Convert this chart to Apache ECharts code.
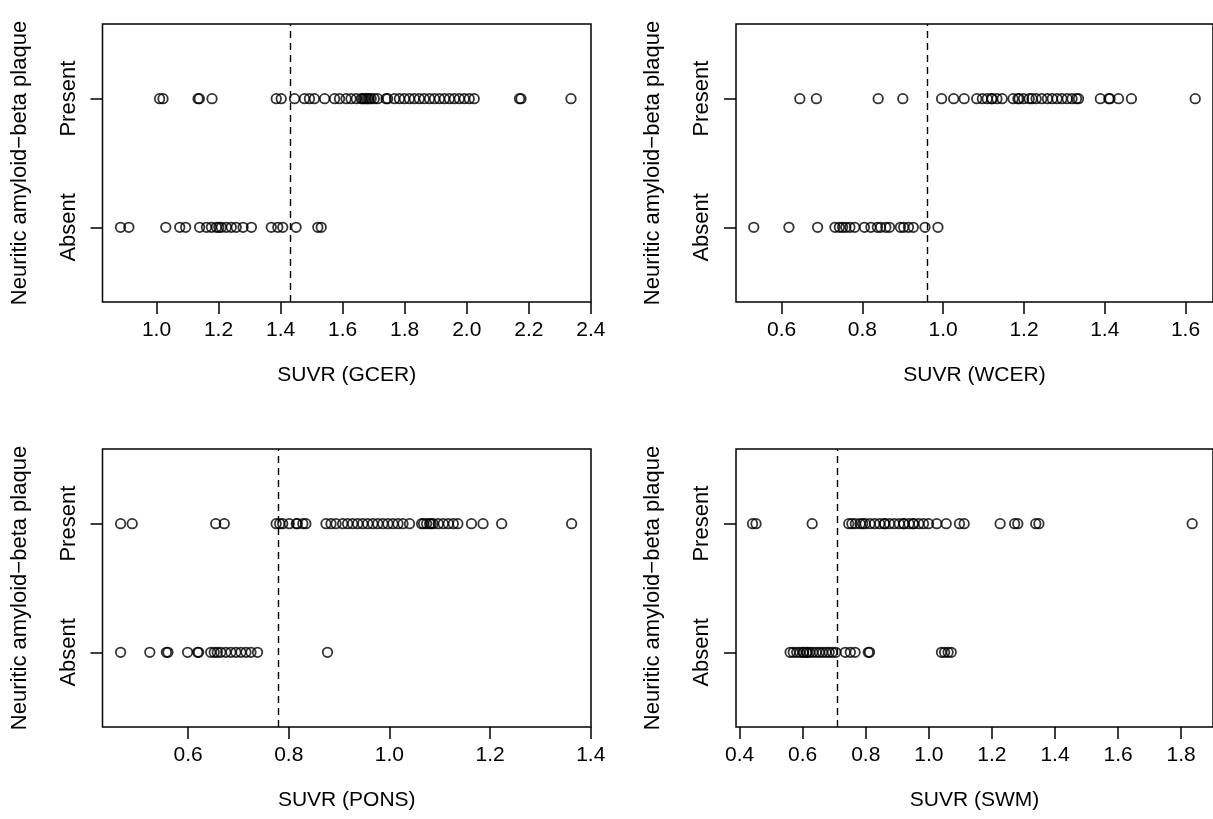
<!DOCTYPE html>
<html><head><meta charset="utf-8">
<script src="https://cdn.jsdelivr.net/npm/echarts@6/dist/echarts.min.js"></script>
<style>html,body{margin:0;padding:0;background:#fff}#c{width:1213px;height:819px}</style>
</head><body><div id="c"></div>
<script>
// ---- data (SUVR values per group) ----
const gcerPresent = [1.010, 1.021, 1.134, 1.138, 1.179, 1.386, 1.402, 1.445, 1.477, 1.493, 1.509, 1.542, 1.574, 1.590, 1.611, 1.627, 1.644, 1.660, 1.665, 1.670, 1.676, 1.681, 1.686, 1.692, 1.702, 1.713, 1.740, 1.745, 1.767, 1.783, 1.799, 1.815, 1.831, 1.847, 1.863, 1.880, 1.896, 1.912, 1.928, 1.944, 1.960, 1.976, 1.992, 2.008, 2.024, 2.170, 2.175, 2.336];
const gcerAbsent = [0.884, 0.911, 1.030, 1.075, 1.094, 1.139, 1.161, 1.177, 1.193, 1.201, 1.209, 1.225, 1.241, 1.257, 1.279, 1.306, 1.370, 1.391, 1.407, 1.450, 1.520, 1.531];
const wcerPresent = [0.645, 0.686, 0.839, 0.900, 0.996, 1.026, 1.052, 1.083, 1.097, 1.109, 1.120, 1.121, 1.133, 1.146, 1.173, 1.185, 1.188, 1.199, 1.213, 1.220, 1.230, 1.244, 1.258, 1.270, 1.282, 1.294, 1.307, 1.319, 1.330, 1.335, 1.389, 1.410, 1.413, 1.434, 1.466, 1.624];
const wcerAbsent = [0.531, 0.618, 0.689, 0.732, 0.743, 0.751, 0.759, 0.769, 0.781, 0.805, 0.821, 0.837, 0.845, 0.858, 0.867, 0.894, 0.902, 0.914, 0.926, 0.955, 0.987];
const ponsPresent = [0.466, 0.489, 0.655, 0.672, 0.775, 0.782, 0.788, 0.801, 0.815, 0.817, 0.828, 0.834, 0.874, 0.884, 0.894, 0.907, 0.917, 0.927, 0.937, 0.947, 0.957, 0.967, 0.977, 0.987, 0.997, 1.007, 1.017, 1.027, 1.040, 1.064, 1.068, 1.074, 1.080, 1.083, 1.087, 1.097, 1.107, 1.117, 1.127, 1.136, 1.163, 1.186, 1.223, 1.362];
const ponsAbsent = [0.466, 0.524, 0.557, 0.560, 0.599, 0.619, 0.621, 0.645, 0.652, 0.658, 0.665, 0.675, 0.685, 0.695, 0.705, 0.715, 0.725, 0.738, 0.877];
const swmPresent = [0.441, 0.452, 0.630, 0.746, 0.756, 0.767, 0.782, 0.790, 0.798, 0.813, 0.828, 0.844, 0.859, 0.860, 0.875, 0.890, 0.906, 0.921, 0.920, 0.937, 0.952, 0.950, 0.968, 0.983, 0.999, 1.025, 1.055, 1.097, 1.112, 1.226, 1.272, 1.282, 1.339, 1.349, 1.835];
const swmAbsent = [0.560, 0.570, 0.581, 0.591, 0.601, 0.603, 0.612, 0.614, 0.622, 0.632, 0.643, 0.653, 0.663, 0.674, 0.684, 0.694, 0.705, 0.735, 0.751, 0.766, 0.808, 0.812, 1.040, 1.050, 1.061, 1.071];
const cutoffs = [1.425, 0.959, 0.776, 0.706];
const xTitles = ['SUVR (GCER)', 'SUVR (WCER)', 'SUVR (PONS)', 'SUVR (SWM)'];
const xTickValues = [
  [1.0, 1.2, 1.4, 1.6, 1.8, 2.0, 2.2, 2.4],
  [0.6, 0.8, 1.0, 1.2, 1.4, 1.6],
  [0.6, 0.8, 1.0, 1.2, 1.4],
  [0.4, 0.6, 0.8, 1.0, 1.2, 1.4, 1.6, 1.8]
];
const xLimits = [[0.826, 2.4005], [0.487, 1.668], [0.430, 1.4005], [0.3885, 1.901]];
const groupLabels = ['Absent', 'Present'];
const yTitle = 'Neuritic amyloid\u2212beta plaque';

// ---- layout ----
const presentSets = [gcerPresent, wcerPresent, ponsPresent, swmPresent];
const absentSets = [gcerAbsent, wcerAbsent, ponsAbsent, swmAbsent];
const lefts = [102.5, 736, 102.5, 736];
const tops = [24, 24, 449, 449];
const W = 488.5, H = 278;
const FONT = 'Liberation Sans, Arial, Helvetica, sans-serif';
const FSX = 21, FSY = 22;

const grids = [], xAxes = [], yAxes = [], series = [];
for (let i = 0; i < 4; i++) {
  grids.push({left: lefts[i], top: tops[i], width: W, height: H, show: true,
    borderColor: '#000', borderWidth: 1.5, backgroundColor: 'transparent', containLabel: false});
  xAxes.push({type: 'value', gridIndex: i, min: xLimits[i][0], max: xLimits[i][1],
    name: xTitles[i], nameLocation: 'middle', nameGap: 63,
    nameTextStyle: {fontFamily: FONT, fontSize: FSX, color: '#000'},
    axisLine: {show: false, onZero: false}, splitLine: {show: false},
    axisTick: {show: true, length: 12, inside: false, customValues: xTickValues[i], lineStyle: {color: '#000', width: 1.5}},
    axisLabel: {show: true, customValues: xTickValues[i], margin: 18, fontFamily: FONT, fontSize: FSX, color: '#000',
      showMinLabel: true, showMaxLabel: true, formatter: v => v.toFixed(1)}
  });
  yAxes.push({type: 'value', gridIndex: i, min: -0.58, max: 1.58,
    name: yTitle, nameLocation: 'middle', nameGap: 72, nameRotate: 90,
    nameTextStyle: {fontFamily: FONT, fontSize: FSY, color: '#000'},
    axisLine: {show: false, onZero: false}, splitLine: {show: false},
    axisTick: {show: true, length: 12, customValues: [0, 1], lineStyle: {color: '#000', width: 1.5}},
    axisLabel: {show: true, customValues: [0, 1], rotate: 90, margin: 23, fontFamily: FONT, fontSize: FSY, color: '#000',
      formatter: v => groupLabels[Math.round(v)]}
  });
  const pt = {color: 'rgba(0,0,0,0)', borderColor: '#000', borderWidth: 1.8};
  series.push({type: 'scatter', xAxisIndex: i, yAxisIndex: i, symbol: 'circle', symbolSize: 9.5,
    itemStyle: pt, silent: true, animation: false,
    data: presentSets[i].map(v => [v, 1]),
    markLine: {silent: true, symbol: 'none', label: {show: false}, animation: false,
      lineStyle: {color: '#000', type: [7, 5], width: 1.4},
      data: [{xAxis: cutoffs[i]}]}
  });
  series.push({type: 'scatter', xAxisIndex: i, yAxisIndex: i, symbol: 'circle', symbolSize: 9.5,
    itemStyle: pt, silent: true, animation: false,
    data: absentSets[i].map(v => [v, 0])});
}

const chart = echarts.init(document.getElementById('c'), null, {renderer: 'canvas'});
chart.setOption({animation: false, backgroundColor: '#fff', grid: grids, xAxis: xAxes, yAxis: yAxes, series: series});
</script>
</body></html>
